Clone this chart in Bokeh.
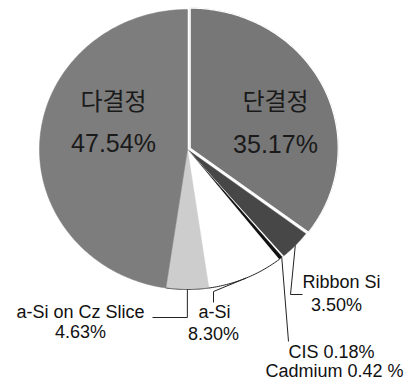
import numpy as np
from bokeh.plotting import figure
from bokeh.models import Range1d
from bokeh.embed import file_html
from bokeh.resources import INLINE
from bokeh.core.properties import value

# ---- data (clockwise from 12 o'clock) ----
labels = ["단결정", "Ribbon Si", "CIS", "Cadmium", "a-Si", "a-Si on Cz Slice", "다결정"]
shares = [35.17, 3.50, 0.18, 0.42, 8.30, 4.63, 47.54]
pct_text = ["35.17%", "3.50%", "0.18%", "0.42 %", "8.30%", "4.63%", "47.54%"]

# ---- styling ----
colors = ["#777777", "#474747", "#ffffff", "#111111", "#ffffff", "#cdcdcd", "#7d7d7d"]
explode = [3, 0, 0, 0, 0, 0, 0]

W, H = 408, 382
p = figure(width=W, height=H, x_range=Range1d(0, W), y_range=Range1d(H, 0),
           output_backend="svg", toolbar_location=None, min_border=0)
p.axis.visible = False
p.grid.visible = False
p.outline_line_color = None

cx, cy, rx, ry = 187, 149, 148, 140
total = sum(shares)
fr = np.array(shares) / total * 2 * np.pi
ends = np.cumsum(fr)
starts = ends - fr
mids = (starts + ends) / 2


def rim(theta, r=1.0, ox=0.0, oy=0.0):
    return cx + ox + rx * r * np.sin(theta), cy + oy - ry * r * np.cos(theta)


xs, ys = [], []
for s, e, m, ex in zip(starts, ends, mids, explode):
    ox, oy = ex * np.sin(m), -ex * np.cos(m)
    n = max(3, int((e - s) / (2 * np.pi) * 360))
    t = np.linspace(s, e, n)
    ax, ay = rim(t, 1.0, ox, oy)
    xs.append([cx + ox] + list(ax))
    ys.append([cy + oy] + list(ay))

p.patches(xs, ys, fill_color=colors, line_color=colors, line_width=0.5)

# white separator between the two big slices
p.patches([xs[0]], [ys[0]], fill_alpha=0, line_color="white", line_width=1.2)

# dark rim for the light slices (a-Si, a-Si on Cz)
for i, col in [(4, "#222222"), (5, "#555555")]:
    t = np.linspace(starts[i], ends[i], 40)
    ax, ay = rim(t)
    p.line(list(ax), list(ay), line_color=col, line_width=1)

# ---- inner labels ----
font = value("Liberation Sans")
kfont = value("Noto Sans CJK KR")
in_x = [275, 113]
p.text(x=in_x, y=[99, 99], text=[labels[0], labels[6]], text_font=kfont,
       text_font_size="24px", text_align="center", text_baseline="alphabetic",
       text_color="#1a1a1a")
p.text(x=in_x, y=[143, 142], text=[pct_text[0], pct_text[6]], text_font=font,
       text_font_size="25px", text_align="center", text_baseline="alphabetic",
       text_color="#1a1a1a")

# ---- outer labels ----
out_txt = [labels[1], pct_text[1],
           labels[5], pct_text[5],
           labels[4], pct_text[4],
           labels[2] + " " + pct_text[2], labels[3] + " " + pct_text[3]]
out_x = [341, 336, 80, 80, 214, 213, 331, 334]
out_y = [281, 304, 311, 331, 311, 333, 351, 370]
p.text(x=out_x, y=out_y, text=out_txt, text_font=font, text_font_size="18px",
       text_align="center", text_baseline="alphabetic", text_color="#111111")

# ---- leader lines (start at slice rim mid-angle) ----
lx, ly = [], []
# Ribbon Si
ax, ay = rim(mids[1], 1.0)
lx.append([ax, 290, 302]); ly.append([ay, 294, 294])
# a-Si on Cz Slice
ax, ay = rim(mids[5], 1.0)
lx.append([ax, ax, 152]); ly.append([ay, 317, 317])
# a-Si
ax, ay = rim(mids[4], 1.0)
lx.append([ax, 213, 213]); ly.append([ay, 291, 302])
# CIS / Cadmium
ax, ay = rim((mids[2] + mids[3]) / 2, 1.0)
lx.append([ax, 288]); ly.append([ay, 341])
p.multi_line(lx, ly, line_color="#222222", line_width=1)

open("out.html", "w").write(file_html(p, INLINE))
